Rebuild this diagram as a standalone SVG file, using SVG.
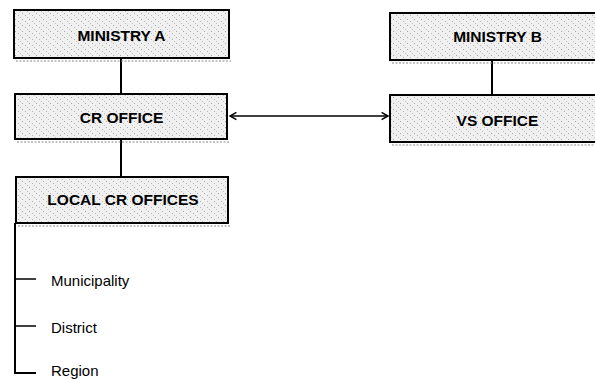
<svg xmlns="http://www.w3.org/2000/svg" width="595" height="379" viewBox="0 0 595 379">
  <defs>
    <!-- light stipple used as the box fill -->
    <pattern id="stipple" width="7" height="6" patternUnits="userSpaceOnUse">
      <rect width="7" height="6" fill="#f0f0f0"/>
      <rect x="1" y="1" width="1" height="1" fill="#a8a8a8"/>
      <rect x="4" y="3" width="1" height="1" fill="#b4b4b4"/>
      <rect x="6" y="5" width="1" height="1" fill="#c0c0c0"/>
    </pattern>
    <marker id="chev" viewBox="0 0 10 10" refX="9" refY="5" markerWidth="8" markerHeight="9" markerUnits="userSpaceOnUse" orient="auto-start-reverse">
      <path d="M1,0.5 L9,5 L1,9.5" fill="none" stroke="#000" stroke-width="1.8"/>
    </marker>
  </defs>
  <style>
    .box { fill: url(#stipple); stroke: #000; stroke-width: 2; }
    .shadow { stroke: #8a8a8a; stroke-width: 1; stroke-dasharray: 2 1.5; fill: none; }
    .title { font-family: "Liberation Sans", Arial, sans-serif; font-weight: bold; font-size: 15.5px; fill: #000; text-anchor: middle; }
    .item { font-family: "Liberation Sans", Arial, sans-serif; font-size: 15px; fill: #000; }
    .link { stroke: #000; stroke-width: 2; fill: none; }
    .thin { stroke: #000; stroke-width: 1.5; fill: none; }
  </style>

  <rect width="595" height="379" fill="#fff"/>

  <g id="connectors">
    <line class="link" x1="121" y1="58" x2="121" y2="94"/>
    <line class="link" x1="121" y1="139" x2="121" y2="177"/>
    <line class="link" x1="492" y1="60" x2="492" y2="95"/>
    <line class="thin" x1="230" y1="116" x2="388" y2="116" marker-start="url(#chev)" marker-end="url(#chev)"/>
    <!-- local office levels -->
    <path class="link" d="M15,223 V373 H36"/>
    <line class="thin" x1="15" y1="279" x2="36" y2="279"/>
    <line class="thin" x1="15" y1="326" x2="36" y2="326"/>
  </g>

  <g id="ministry-a">
    <rect class="box" x="14" y="10" width="215" height="48"/>
    <line class="shadow" x1="16" y1="61" x2="231" y2="61"/>
    <text class="title" x="121.5" y="41">MINISTRY A</text>
  </g>

  <g id="cr-office">
    <rect class="box" x="15" y="94" width="212" height="45"/>
    <line class="shadow" x1="17" y1="142" x2="229" y2="142"/>
    <text class="title" x="121.5" y="123">CR OFFICE</text>
  </g>

  <g id="local-cr-offices">
    <rect class="box" x="16" y="177" width="212" height="46"/>
    <line class="shadow" x1="18" y1="226" x2="230" y2="226"/>
    <text class="title" x="123" y="205">LOCAL CR OFFICES</text>
  </g>

  <g id="ministry-b">
    <rect class="box" x="390" y="13" width="215" height="47"/>
    <line class="shadow" x1="392" y1="63" x2="600" y2="63"/>
    <text class="title" x="497.5" y="42">MINISTRY B</text>
  </g>

  <g id="vs-office">
    <rect class="box" x="390" y="95" width="215" height="47"/>
    <line class="shadow" x1="392" y1="145" x2="600" y2="145"/>
    <text class="title" x="497.5" y="126">VS OFFICE</text>
  </g>

  <g id="levels">
    <text class="item" x="51" y="286">Municipality</text>
    <text class="item" x="51" y="333">District</text>
    <text class="item" x="51" y="375.5">Region</text>
  </g>
</svg>
